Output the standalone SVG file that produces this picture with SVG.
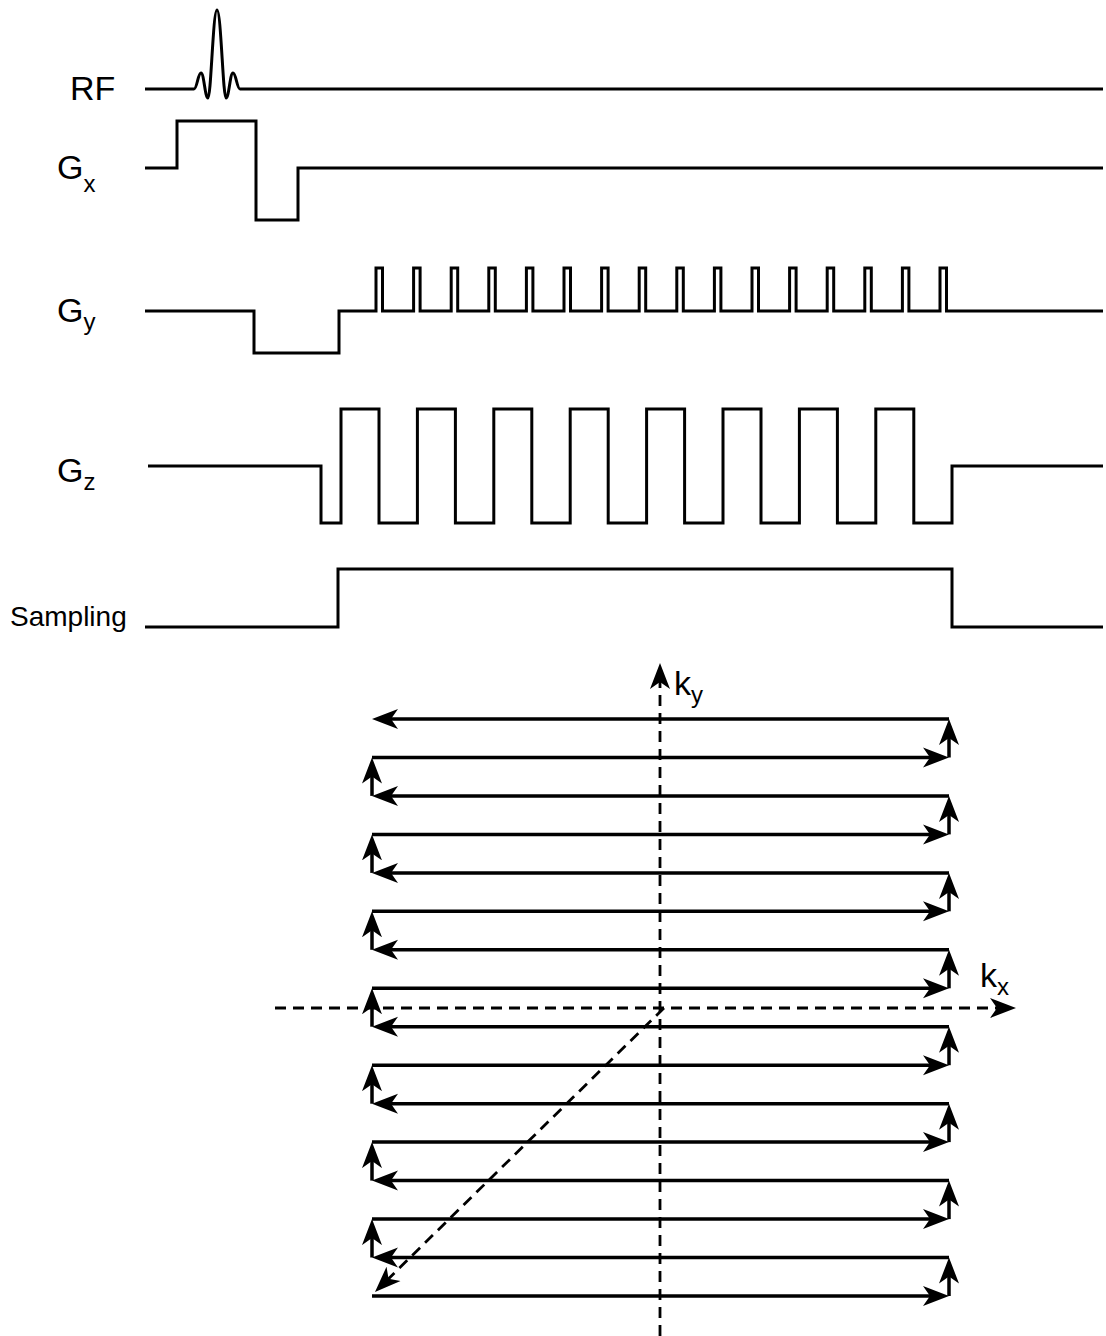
<svg xmlns="http://www.w3.org/2000/svg" width="1106" height="1336" viewBox="0 0 1106 1336">
<style>
.lbl{font-family:"Liberation Sans",Arial,sans-serif;fill:#000}
.main{font-size:34px}
.sub{font-size:24px}
.wave{fill:none;stroke:#000;stroke-width:3;stroke-linejoin:miter}
.traj{fill:none;stroke:#000;stroke-width:3.5}
.axis{fill:none;stroke:#000;stroke-width:2.8;stroke-dasharray:11 7}
</style>
<defs>
<marker id="ah" viewBox="0 -11 27 22" refX="17" refY="0" markerWidth="27" markerHeight="22" markerUnits="userSpaceOnUse" orient="auto">
<path d="M26,0 L0,-10 L7,0 L0,10 Z" fill="#000"/>
</marker>
</defs>
<rect width="1106" height="1336" fill="#fff"/>

<g id="rf">
<text class="lbl main" x="70" y="100">RF</text>
<path class="wave" d="M145,89 L194,89 C197,89 198,73 201,73 C204,73 205,98 208,98 C211,98 213,10 217,10 C221,10 223,98 226,98 C229,98 230,73 233,73 C236,73 237,89 240,89 L1103,89"/>
</g>

<g id="gx">
<text class="lbl main" x="57" y="179">G<tspan class="sub" dy="13">x</tspan></text>
<path class="wave" d="M145,168 H177 V121 H256 V220 H298 V168 H1103"/>
</g>

<g id="gy">
<text class="lbl main" x="57" y="322">G<tspan class="sub" dy="8">y</tspan></text>
<path class="wave" d="M145,311 H254 V353 H339 V311 H376 V268 H382.5 V311 H413.6 V268 H420.1 V311 H451.2 V268 H457.7 V311 H488.8 V268 H495.3 V311 H526.4 V268 H532.9 V311 H564 V268 H570.5 V311 H601.6 V268 H608.1 V311 H639.2 V268 H645.7 V311 H676.8 V268 H683.3 V311 H714.4 V268 H720.9 V311 H752 V268 H758.5 V311 H789.6 V268 H796.1 V311 H827.2 V268 H833.7 V311 H864.8 V268 H871.3 V311 H902.4 V268 H908.9 V311 H940 V268 H946.5 V311 H1103"/>
</g>

<g id="gz">
<text class="lbl main" x="57" y="482">G<tspan class="sub" dy="8">z</tspan></text>
<path class="wave" d="M148,466 H321 V523 H341 V409 H379 V523 H417.4 V409 H455.4 V523 H493.8 V409 H531.8 V523 H570.2 V409 H608.2 V523 H646.6 V409 H684.6 V523 H723 V409 H761 V523 H799.4 V409 H837.4 V523 H875.8 V409 H913.8 V523 H952 V466 H1103"/>
</g>

<g id="sampling">
<text class="lbl" style="font-size:28px" x="10" y="626">Sampling</text>
<path class="wave" d="M145,627 H338 V569 H952 V627 H1103"/>
</g>

<g id="axes">
<line class="axis" x1="660" y1="1336" x2="660" y2="672" marker-end="url(#ah)"/>
<line class="axis" x1="275" y1="1008" x2="1007" y2="1008" marker-end="url(#ah)"/>
<line class="axis" x1="664" y1="1008" x2="381.4" y2="1285.7" marker-end="url(#ah)"/>
<text class="lbl main" x="674" y="695">k<tspan class="sub" dy="8">y</tspan></text>
<text class="lbl main" x="980" y="987">k<tspan class="sub" dy="8">x</tspan></text>
</g>

<g id="trajectory">
<line class="traj" x1="372" y1="1296" x2="940" y2="1296" marker-end="url(#ah)"/>
<line class="traj" x1="949" y1="1296" x2="949" y2="1266.5" marker-end="url(#ah)"/>
<line class="traj" x1="949" y1="1257.5" x2="381" y2="1257.5" marker-end="url(#ah)"/>
<line class="traj" x1="372" y1="1257.5" x2="372" y2="1228.1" marker-end="url(#ah)"/>
<line class="traj" x1="372" y1="1219.1" x2="940" y2="1219.1" marker-end="url(#ah)"/>
<line class="traj" x1="949" y1="1219.1" x2="949" y2="1189.6" marker-end="url(#ah)"/>
<line class="traj" x1="949" y1="1180.6" x2="381" y2="1180.6" marker-end="url(#ah)"/>
<line class="traj" x1="372" y1="1180.6" x2="372" y2="1151.1" marker-end="url(#ah)"/>
<line class="traj" x1="372" y1="1142.1" x2="940" y2="1142.1" marker-end="url(#ah)"/>
<line class="traj" x1="949" y1="1142.1" x2="949" y2="1112.7" marker-end="url(#ah)"/>
<line class="traj" x1="949" y1="1103.7" x2="381" y2="1103.7" marker-end="url(#ah)"/>
<line class="traj" x1="372" y1="1103.7" x2="372" y2="1074.2" marker-end="url(#ah)"/>
<line class="traj" x1="372" y1="1065.2" x2="940" y2="1065.2" marker-end="url(#ah)"/>
<line class="traj" x1="949" y1="1065.2" x2="949" y2="1035.7" marker-end="url(#ah)"/>
<line class="traj" x1="949" y1="1026.7" x2="381" y2="1026.7" marker-end="url(#ah)"/>
<line class="traj" x1="372" y1="1026.7" x2="372" y2="997.3" marker-end="url(#ah)"/>
<line class="traj" x1="372" y1="988.3" x2="940" y2="988.3" marker-end="url(#ah)"/>
<line class="traj" x1="949" y1="988.3" x2="949" y2="958.8" marker-end="url(#ah)"/>
<line class="traj" x1="949" y1="949.8" x2="381" y2="949.8" marker-end="url(#ah)"/>
<line class="traj" x1="372" y1="949.8" x2="372" y2="920.3" marker-end="url(#ah)"/>
<line class="traj" x1="372" y1="911.3" x2="940" y2="911.3" marker-end="url(#ah)"/>
<line class="traj" x1="949" y1="911.3" x2="949" y2="881.9" marker-end="url(#ah)"/>
<line class="traj" x1="949" y1="872.9" x2="381" y2="872.9" marker-end="url(#ah)"/>
<line class="traj" x1="372" y1="872.9" x2="372" y2="843.4" marker-end="url(#ah)"/>
<line class="traj" x1="372" y1="834.4" x2="940" y2="834.4" marker-end="url(#ah)"/>
<line class="traj" x1="949" y1="834.4" x2="949" y2="804.9" marker-end="url(#ah)"/>
<line class="traj" x1="949" y1="795.9" x2="381" y2="795.9" marker-end="url(#ah)"/>
<line class="traj" x1="372" y1="795.9" x2="372" y2="766.5" marker-end="url(#ah)"/>
<line class="traj" x1="372" y1="757.5" x2="940" y2="757.5" marker-end="url(#ah)"/>
<line class="traj" x1="949" y1="757.5" x2="949" y2="728" marker-end="url(#ah)"/>
<line class="traj" x1="949" y1="719" x2="381" y2="719" marker-end="url(#ah)"/>
</g>
</svg>
